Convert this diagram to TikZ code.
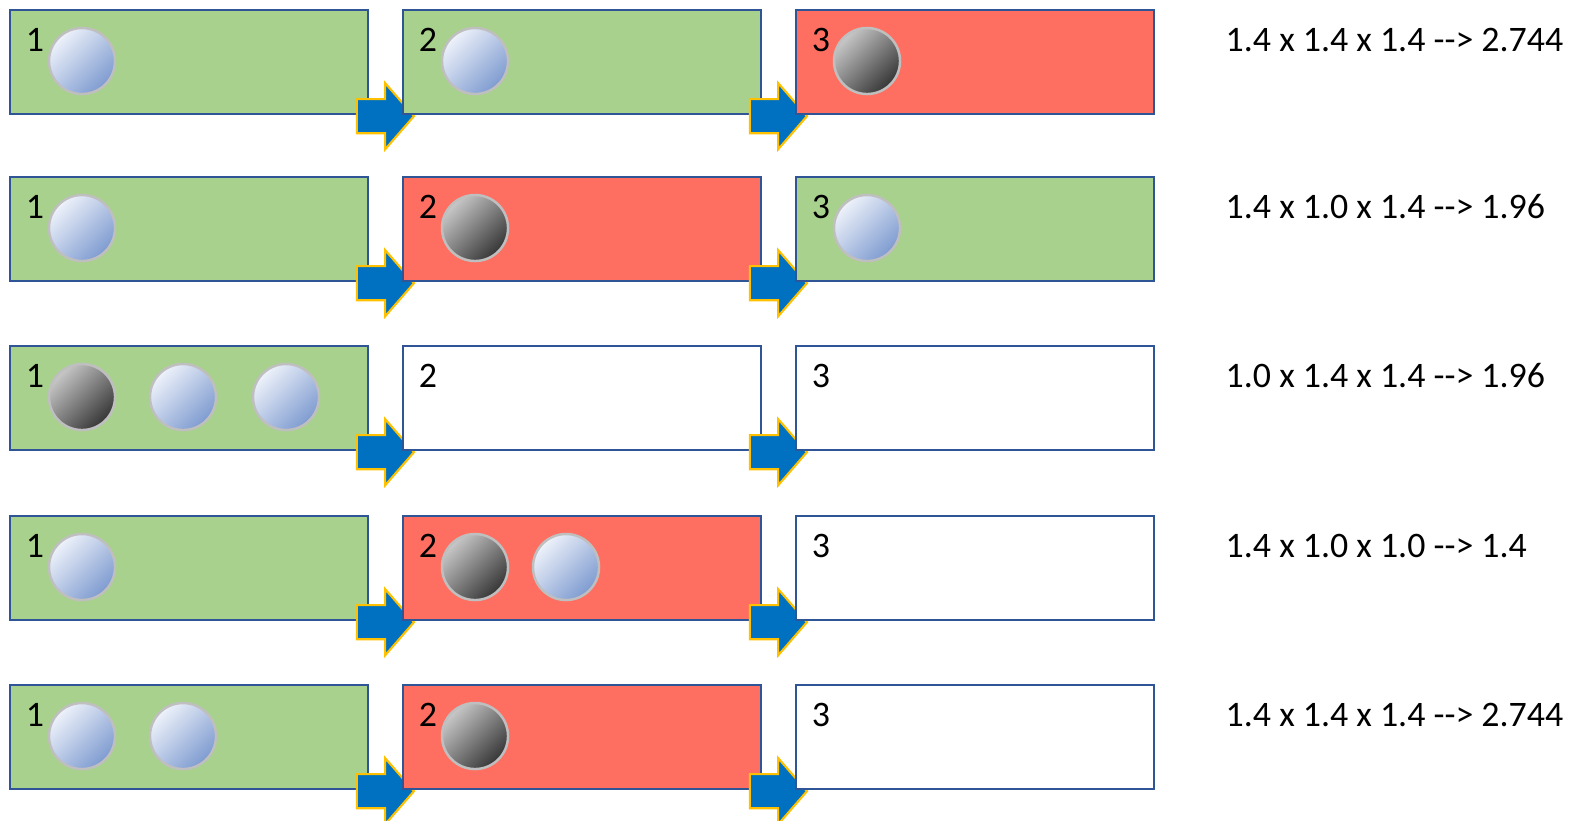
\documentclass[tikz,border=0pt]{standalone}
\usepackage{fontspec}
\setmainfont{Carlito}
\usetikzlibrary{shapes.arrows,calc}
\definecolor{boxblue}{HTML}{2F5597}
\definecolor{okgreen}{HTML}{A9D18E}
\definecolor{badred}{HTML}{FF6F61}
\definecolor{flowblue}{HTML}{0070C0}
\definecolor{flowgold}{HTML}{FFC000}
\definecolor{ballrim}{HTML}{BFBFBF}
\definecolor{goodhi}{HTML}{EEF2FA}
\definecolor{goodmid}{HTML}{C3D2EE}
\definecolor{goodlo}{HTML}{7E9BD0}
\definecolor{faulthi}{HTML}{C8C8C8}
\definecolor{faultmid}{HTML}{6E6E6E}
\definecolor{faultlo}{HTML}{363636}
\tikzset{
  every picture/.style={line join=miter},
  stage/.style={draw=boxblue, line width=0.6pt, minimum width=3.58cm,
    minimum height=1.04cm, inner sep=0pt, anchor=north west},
  ok/.style={stage, fill=okgreen},
  bad/.style={stage, fill=badred},
  idle/.style={stage, fill=white},
  flow/.style={single arrow, draw=flowgold, fill=flowblue, line width=0.6pt,
    minimum height=0.57cm, inner xsep=0pt, inner ysep=0.16cm,
    single arrow head extend=0.16cm, single arrow tip angle=98, anchor=tip},
  num/.style={font=\fontsize{10.2}{12}\selectfont, inner sep=0pt},
  ball/.style={circle, draw=ballrim, line width=0.7pt, minimum size=0.66cm, inner sep=0pt},
  good/.style={ball, shading=axis, top color=goodhi, middle color=goodmid,
    bottom color=goodlo, shading angle=45},
  fault/.style={ball, shading=axis, top color=faulthi, middle color=faultmid,
    bottom color=faultlo, shading angle=45},
}
\begin{document}
\begin{tikzpicture}[x=0.01cm, y=-0.01cm]
    \useasboundingbox (0,0) rectangle (1571,820);

    % Stages, flow arrows and results
    \foreach \r/\y/\sa/\sb/\sc/\res in {
        1/9/ok/ok/bad/{1.4 x 1.4 x 1.4 {-}{-}> 2.744},
        2/176/ok/bad/ok/{1.4 x 1.0 x 1.4 {-}{-}> 1.96},
        3/345/ok/idle/idle/{1.0 x 1.4 x 1.4 {-}{-}> 1.96},
        4/515/ok/bad/idle/{1.4 x 1.0 x 1.0 {-}{-}> 1.4},
        5/684/ok/bad/idle/{1.4 x 1.4 x 1.4 {-}{-}> 2.744}} {
      \node[\sa] (b\r1) at (9,\y) {};
      \node[flow] (a\r1) at ($(b\r1.south east)+(46,1)$) {};
      \node[\sb] (b\r2) at (402,\y) {};
      \node[flow] (a\r2) at ($(b\r2.south east)+(46,1)$) {};
      \node[\sc] (b\r3) at (795,\y) {};
      \foreach \c in {1,2,3}
        \node[num] (n\r\c) at ([shift={(26,31)}]b\r\c.north west) {\c};
      \node[num, anchor=west] (r\r) at (1225,\y+31) {\res};
    }

    % Balls
    \node[good]  (k11) at ([shift={(73,52)}]b11.north west) {};
    \node[good]  (k12) at ([shift={(73,52)}]b12.north west) {};
    \node[fault] (k13) at ([shift={(72,52)}]b13.north west) {};

    \node[good]  (k21) at ([shift={(73,52)}]b21.north west) {};
    \node[fault] (k22) at ([shift={(73,52)}]b22.north west) {};
    \node[good]  (k23) at ([shift={(72,52)}]b23.north west) {};

    \node[fault] (k31) at ([shift={(73,52)}]b31.north west) {};
    \node[good]  (k31b) at ([shift={(101,0)}]k31) {};
    \node[good]  (k31c) at ([shift={(204,0)}]k31) {};

    \node[good]  (k41) at ([shift={(73,52)}]b41.north west) {};
    \node[fault] (k42) at ([shift={(73,52)}]b42.north west) {};
    \node[good]  (k42b) at ([shift={(91,0)}]k42) {};

    \node[good]  (k51) at ([shift={(73,52)}]b51.north west) {};
    \node[good]  (k51b) at ([shift={(101,0)}]k51) {};
    \node[fault] (k52) at ([shift={(73,52)}]b52.north west) {};
\end{tikzpicture}
\end{document}
